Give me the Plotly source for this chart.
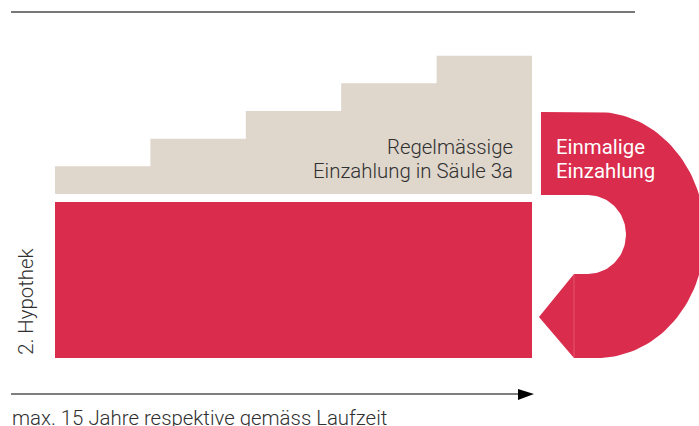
import numpy as np
import plotly.graph_objects as go

# ---------------- data ----------------
step_edges = [0, 1, 2, 3, 4, 5]              # block boundaries (one block per period)
step_values = [1, 2, 3, 4, 5]                # Regelmässige Einzahlung (Säule 3a), cumulative level
hyp_x = [2.5]
hyp_top = [-0.29]
hyp_bottom = [-5.93]                          # 2. Hypothek block

label_regel = ["Regelmässige", "Einzahlung in Säule 3a"]
label_einmal = ["Einmalige", "Einzahlung"]
label_hyp = "2. Hypothek"
label_time = "max. 15 Jahre respektive gemäss Laufzeit"

# geometry of the one-time payment symbol (data units)
sym_left = 5.094
sym_ecx, sym_ecy, sym_a, sym_b = 5.681, -1.482, 1.132, 4.447
hole_cx, hole_cy, hole_rx, hole_ry = 5.587, -1.464, 0.398, 1.428
seam_x, tip_x, tip_y = 5.440, 5.073, -4.447

RED = "#DA2C4D"
BEIGE = "#DFD6CC"
DARK = "#303030"

fig = go.Figure()

# beige staircase (single stepped area)
fig.add_trace(go.Scatter(x=step_edges, y=step_values + [step_values[-1]], mode="lines",
                         line=dict(shape="hv", width=0, color=BEIGE), fill="tozeroy",
                         fillcolor=BEIGE, hoverinfo="skip"))
# red 2. Hypothek block
fig.add_trace(go.Bar(x=hyp_x, y=[b - t for b, t in zip(hyp_bottom, hyp_top)], base=hyp_top, width=[5],
                     marker=dict(color=RED, line=dict(width=0)), hoverinfo="skip"))

# one-time payment symbol
top = sym_ecy + sym_b
bot = sym_ecy - sym_b
t = np.linspace(np.pi / 2, -np.pi / 2, 80)
hx_top = hole_cy + hole_ry
hx_bot = hole_cy - hole_ry
th = np.linspace(-np.pi / 2, np.pi / 2, 60)
px = [sym_left, sym_ecx] + list(sym_ecx + sym_a * np.cos(t)) + [sym_ecx, seam_x, tip_x, seam_x, hole_cx] \
    + list(hole_cx + hole_rx * np.cos(th)) + [hole_cx, sym_left, sym_left]
py = [top, top] + list(sym_ecy + sym_b * np.sin(t)) + [bot, bot, tip_y, hx_bot, hx_bot] \
    + list(hole_cy + hole_ry * np.sin(th)) + [hx_top, hx_top, top]
fig.add_trace(go.Scatter(x=px, y=py, mode="lines", fill="toself", fillcolor=RED,
                         line=dict(width=0, color=RED), hoverinfo="skip"))
fig.add_trace(go.Scatter(x=[seam_x, seam_x], y=[hx_bot, bot], mode="lines",
                         line=dict(width=0.8, color="rgba(255,255,255,0.25)"), hoverinfo="skip"))

# top rule
fig.add_trace(go.Scatter(x=[-0.461, 6.080], y=[6.58, 6.58], mode="lines",
                         line=dict(width=1.6, color="#4a4a4a"), hoverinfo="skip"))
# time arrow
fig.add_trace(go.Scatter(x=[-0.461, 4.87], y=[-7.231, -7.231], mode="lines",
                         line=dict(width=1.6, color="#555555"), hoverinfo="skip"))
fig.add_trace(go.Scatter(x=[4.853, 5.021, 4.853, 4.853], y=[-7.05, -7.231, -7.448, -7.05], mode="lines",
                         fill="toself", fillcolor="black", line=dict(width=0, color="black"), hoverinfo="skip"))

FS = 20.4
fnt_light = dict(family="Roboto", size=FS, color=DARK, weight=300)
fnt_white = dict(family="Roboto", size=FS, color="white", weight=400)
line_y = [1.699, 0.842]
for txt, yy in zip(label_regel, line_y):
    fig.add_annotation(x=4.816, y=yy, text=txt, showarrow=False, xanchor="right", yanchor="middle",
                       align="right", font=fnt_light, borderpad=0)
for txt, yy in zip(label_einmal, line_y):
    fig.add_annotation(x=5.245, y=yy, text=txt, showarrow=False, xanchor="left", yanchor="middle",
                       align="left", font=fnt_white, borderpad=0)
fig.add_annotation(x=-0.311, y=-3.887, text=label_hyp, showarrow=False, textangle=-90,
                   xanchor="center", yanchor="middle", font=fnt_light, borderpad=0)
fig.add_annotation(x=-0.465, y=-8.10, text=label_time, showarrow=False, xanchor="left", yanchor="middle",
                   align="left", font=fnt_light, borderpad=0)

fig.update_layout(
    width=699, height=426, margin=dict(l=0, r=0, t=0, b=0),
    paper_bgcolor="white", plot_bgcolor="white", showlegend=False, barmode="overlay",
    xaxis=dict(range=[-0.5765, 6.7505], visible=False, fixedrange=True),
    yaxis=dict(range=[-8.388, 7.014], visible=False, fixedrange=True),
)

fig.write_html("out.html", config={"displayModeBar": False},
               post_script="document.body.style.margin='0';document.body.style.overflow='hidden';")
